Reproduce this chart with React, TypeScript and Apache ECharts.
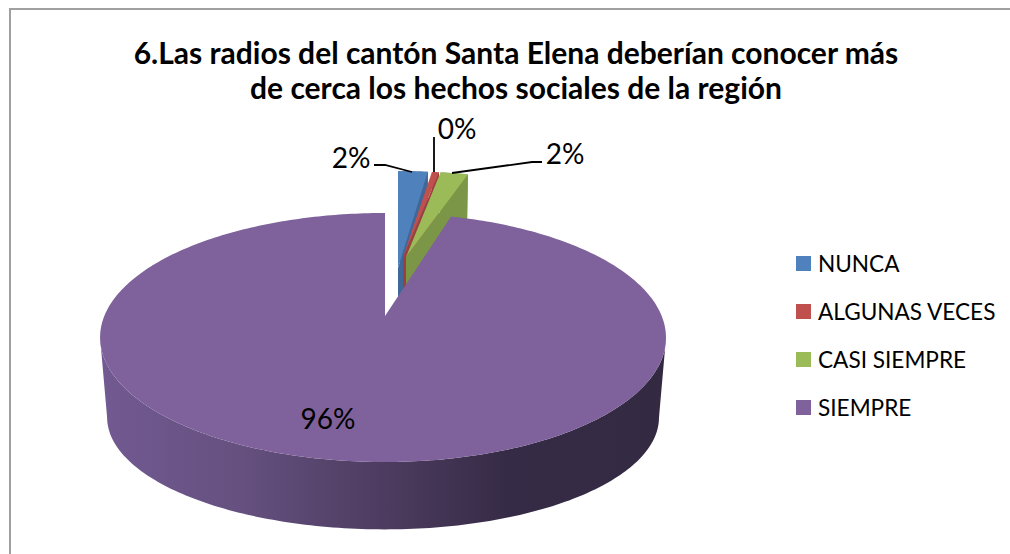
import React, { useEffect, useRef } from "react";
import * as echarts from "echarts";

const titleLines = [
  "6.Las radios del cantón Santa Elena deberían conocer más",
  "de cerca los hechos sociales de la región",
];
const categories = ["NUNCA", "ALGUNAS VECES", "CASI SIEMPRE", "SIEMPRE"];
const values = [2, 0.49, 2, 95.51];
const topColors = ["#4f81bd", "#c0504d", "#9bbb59", "#7f629c"];
const wallColors = ["#3f6797", "#9a403e", "#7c9647", "#5a4672"];

// Exploded position of each slice's tip on the top face, and its foreshortening
const tips = [
  { x: 398, y: 268, sx: 1, sy: 0.94, lean: 0 },
  { x: 403, y: 257, sx: 0.97, sy: 0.83, lean: 0 },
  { x: 406, y: 257, sx: 0.93, sy: 0.83, lean: 0 },
  { x: 385, y: 316, sx: 1, sy: 1, lean: 2 },
];
const labelSpots = [
  { x: 351, y: 157 },
  { x: 457, y: 128 },
  { x: 565, y: 153 },
  { x: 328, y: 418 },
];
const leaders = [
  [[374, 165], [385, 165], [412, 172]],
  [[434, 137], [434, 172]],
  [[452, 173], [532, 162], [542, 162]],
];

const K = 0.1727;
const TOP = { X: 278.7, Y: 120.8 };
const BOTTOM = { X: 271.8, Y: 108.7, dy: 82 };
const FONT = "Lato";
const total = values.reduce((a, b) => a + b, 0);

function topPoint(deg: number, i: number) {
  const t = (deg * Math.PI) / 180;
  const w = 1 + K * Math.cos(t);
  const tip = tips[i];
  return [
    tip.x + (TOP.X * tip.sx * Math.sin(t)) / w - tip.lean * Math.abs(Math.sin(t)),
    tip.y - (TOP.Y * tip.sy * Math.cos(t)) / w,
  ];
}
function bottomPoint(deg: number, i: number) {
  const t = (deg * Math.PI) / 180;
  const w = 1 + K * Math.cos(t);
  const tip = tips[i];
  return [
    tip.x + (BOTTOM.X * tip.sx * Math.sin(t)) / w - tip.lean * Math.abs(Math.sin(t)),
    tip.y + BOTTOM.dy - (BOTTOM.Y * tip.sy * Math.cos(t)) / w,
  ];
}
function arcDegrees(a: number, b: number) {
  const out: number[] = [];
  const n = Math.max(2, Math.ceil((b - a) / 1));
  for (let j = 0; j <= n; j++) out.push(a + ((b - a) * j) / n);
  return out;
}
function extremeIndex(rim: number[][], sign: number) {
  let best = 0;
  rim.forEach((p, j) => {
    if (sign * p[0] > sign * rim[best][0]) best = j;
  });
  return best;
}

const wallGradient = new echarts.graphic.LinearGradient(
  100, 0, 666, 0,
  [
    { offset: 0, color: "#725a92" },
    { offset: 0.25, color: "#65507f" },
    { offset: 0.5, color: "#4d3c60" },
    { offset: 0.72, color: "#362b46" },
    { offset: 1, color: "#332a42" },
  ],
  true
);

function renderSlice(i: number) {
  return () => {
    const start = (values.slice(0, i).reduce((a, b) => a + b, 0) / total) * 360;
    const end = start + (values[i] / total) * 360;
    const degs = arcDegrees(start, end);
    const topRim = degs.map((d) => topPoint(d, i));
    const botRim = degs.map((d) => bottomPoint(d, i));
    const tipTop = [tips[i].x, tips[i].y];
    const tipBot = [tips[i].x, tips[i].y + BOTTOM.dy];
    const children: any[] = [];
    if (i === 3) {
      // outer wall: front of the top rim joined to the front of the bottom rim
      const topFront = topRim.slice(extremeIndex(topRim, 1), extremeIndex(topRim, -1) + 1);
      const botFront = botRim.slice(extremeIndex(botRim, 1), extremeIndex(botRim, -1) + 1);
      children.push({
        type: "polygon",
        shape: { points: [...topFront, ...botFront.slice().reverse()] },
        style: { fill: wallGradient },
      });
    } else {
      // cut face and outer wall of the small exploded slices
      children.push({
        type: "polygon",
        shape: { points: [...topRim, ...botRim.slice().reverse()] },
        style: { fill: wallColors[i] },
      });
      children.push({
        type: "polygon",
        shape: { points: [tipTop, topRim[topRim.length - 1], botRim[botRim.length - 1], tipBot] },
        style: { fill: wallColors[i] },
      });
    }
    // top face
    children.push({
      type: "polygon",
      shape: { points: [tipTop, ...topRim] },
      style: { fill: topColors[i] },
    });
    children.push({
      type: "text",
      style: {
        x: labelSpots[i].x,
        y: labelSpots[i].y,
        text: Math.round((values[i] / total) * 100) + "%",
        fill: "#000",
        font: `28px ${FONT}`,
        textAlign: "center",
        textVerticalAlign: "middle",
      },
      z2: 50,
    });
    return { type: "group", children };
  };
}

export default function App() {
  const ref = useRef<HTMLDivElement>(null);
  useEffect(() => {
    const chart = echarts.init(ref.current!, null, { renderer: "svg" });
    chart.setOption({
      animation: false,
      backgroundColor: "#fff",
      title: {
        text: titleLines.join("\n"),
        left: 511,
        top: 29,
        textAlign: "center",
        textStyle: {
          fontFamily: FONT,
          fontWeight: "bold",
          fontSize: 30,
          lineHeight: 35,
          color: "#000",
        },
      },
      legend: {
        orient: "vertical",
        left: 791,
        top: 247,
        itemWidth: 15,
        itemHeight: 15,
        itemGap: 25,
        icon: "rect",
        data: categories,
        textStyle: { fontFamily: FONT, fontSize: 22.6, color: "#000", padding: [0, 0, 0, 2] },
      },
      series: categories.map((name, i) => ({
        type: "custom",
        name,
        coordinateSystem: "none",
        silent: true,
        z: 2 + i,
        itemStyle: { color: topColors[i] },
        data: [[values[i]]],
        renderItem: renderSlice(i),
      })),
      graphic: [
        {
          type: "polyline",
          z: 20,
          shape: { points: [[1010, 9], [10, 9], [10, 554]] },
          style: { stroke: "#a0a0a0", lineWidth: 2, fill: "none" },
        },
        ...leaders.map((points) => ({
          type: "polyline",
          z: 20,
          shape: { points },
          style: { stroke: "#000", lineWidth: 1.8, fill: "none" },
        })),
      ],
    });
    return () => chart.dispose();
  }, []);
  return <div ref={ref} style={{ width: 1010, height: 554, position: "fixed", left: 0, top: 0 }} />;
}
